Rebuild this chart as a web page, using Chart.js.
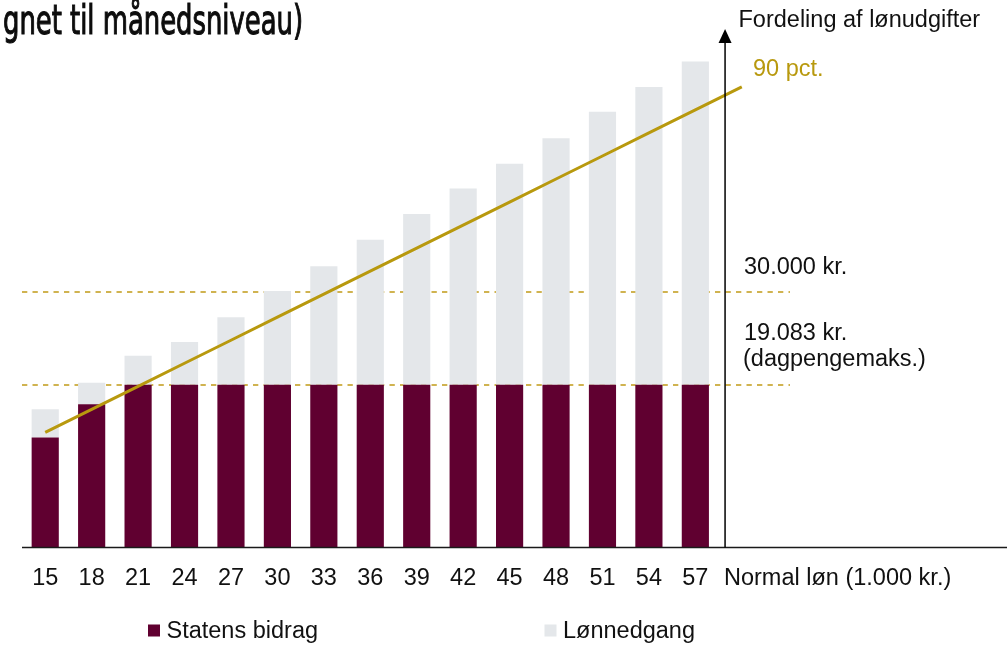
<!DOCTYPE html>
<html>
<head>
<meta charset="utf-8">
<script src="https://cdn.jsdelivr.net/npm/chart.js@4/dist/chart.umd.min.js"></script>
<style>
  html, body { margin: 0; padding: 0; background: #ffffff; }
  #wrap { position: relative; width: 1007px; height: 645px; }
</style>
</head>
<body>
<div id="wrap"><canvas id="c" width="1007" height="645"></canvas></div>
<script>
// ---- data ----
const wages = [15, 18, 21, 24, 27, 30, 33, 36, 39, 42, 45, 48, 51, 54, 57];
const lineWages = [15, 18, 21, 24, 27, 30, 33, 36, 39, 42, 45, 48, 51, 54, 57, 60];
const statensBidrag = [12.9, 16.8, 19.083, 19.083, 19.083, 19.083, 19.083, 19.083, 19.083, 19.083, 19.083, 19.083, 19.083, 19.083, 19.083];
const loennedgang = [3.3, 2.5, 3.4, 5.0, 7.9, 11.0, 13.9, 17.0, 20.0, 23.0, 25.9, 28.9, 32.0, 34.9, 37.9];
const pct90 = [13.5, 16.2, 18.9, 21.6, 24.3, 27.0, 29.7, 32.4, 35.1, 37.8, 40.5, 43.2, 45.9, 48.6, 51.3, 54.0];
const refLines = [30, 19.083];
const refLabels = [["30.000 kr."], ["19.083 kr.", "(dagpengemaks.)"]];
const titleText = "gnet til månedsniveau)";
const yAxisTitle = "Fordeling af lønudgifter";
const xAxisTitle = "Normal løn (1.000 kr.)";
const lineLabel = "90 pct.";

const FONT = "'Liberation Sans', Arial, sans-serif";
const FSIZE = 23.5;
const MAROON = '#600030';
const GREY = '#E4E7EA';
const GOLD = '#B8990E';
const DASH = '#D0B350';

const statensPadded = statensBidrag.concat([null]);
const loennPadded = loennedgang.concat([null]);

const decor = {
  id: 'decor',
  beforeDatasetsDraw(chart) {
    const ctx = chart.ctx;
    const ys = chart.scales.y;
    ctx.save();
    ctx.strokeStyle = DASH;
    ctx.lineWidth = 2.2;
    ctx.setLineDash([5.3, 5.2]);
    refLines.forEach(v => {
      const y = Math.round(ys.getPixelForValue(v));
      ctx.beginPath();
      ctx.moveTo(22, y);
      ctx.lineTo(790, y);
      ctx.stroke();
    });
    ctx.restore();
  },
  afterDatasetsDraw(chart) {
    const ctx = chart.ctx;
    const xs = chart.scales.x, ys = chart.scales.y;
    const step = xs.getPixelForValue(15) - xs.getPixelForValue(14);
    const axX = xs.getPixelForValue(14) + step * 0.64;
    const baseY = ys.getPixelForValue(0);
    ctx.save();
    ctx.strokeStyle = '#1a1a1a';
    ctx.lineWidth = 1.5;
    ctx.beginPath();
    ctx.moveTo(22, baseY);
    ctx.lineTo(1007, baseY);
    ctx.stroke();
    ctx.strokeStyle = '#000';
    ctx.lineWidth = 1.5;
    ctx.beginPath();
    ctx.moveTo(axX, baseY);
    ctx.lineTo(axX, 42);
    ctx.stroke();
    ctx.fillStyle = '#000';
    ctx.beginPath();
    ctx.moveTo(axX, 29);
    ctx.lineTo(axX - 6.5, 43);
    ctx.lineTo(axX + 6.5, 43);
    ctx.closePath();
    ctx.fill();

    ctx.font = FSIZE + 'px ' + FONT;
    ctx.textAlign = 'left';
    ctx.textBaseline = 'alphabetic';
    ctx.fillStyle = '#111';
    ctx.fillText(yAxisTitle, 738.5, 27);
    ctx.fillText(xAxisTitle, 724, 585);
    const y30 = ys.getPixelForValue(refLines[0]);
    const y19 = ys.getPixelForValue(refLines[1]);
    ctx.fillText(refLabels[0][0], 744, y30 - 18);
    ctx.fillText(refLabels[1][0], 744, y19 - 44.5);
    ctx.fillText(refLabels[1][1], 743, y19 - 18.5);
    ctx.fillStyle = GOLD;
    ctx.fillText(lineLabel, 753, 76);

    const legendItems = [
      { text: chart.data.datasets[1].label, color: chart.data.datasets[1].backgroundColor, x: 148 },
      { text: chart.data.datasets[2].label, color: chart.data.datasets[2].backgroundColor, x: 544.5 }
    ];
    legendItems.forEach(it => {
      ctx.fillStyle = it.color;
      ctx.fillRect(it.x, 624.5, 12, 12);
      ctx.fillStyle = '#111';
      ctx.fillText(it.text, it.x + 18.5, 638.3);
    });

    ctx.font = '41px "DejaVu Sans Condensed", "Liberation Sans Narrow", sans-serif';
    const w = ctx.measureText(titleText).width;
    ctx.translate(3, 33.5);
    ctx.scale(300 / w, 1);
    ctx.fillStyle = '#0d0d0d';
    ctx.strokeStyle = '#0d0d0d';
    ctx.lineWidth = 1.1;
    ctx.fillText(titleText, 0, 0);
    ctx.strokeText(titleText, 0, 0);
    ctx.restore();
  }
};

new Chart(document.getElementById('c'), {
  type: 'bar',
  data: {
    labels: lineWages.map(String),
    datasets: [
      {
        type: 'line',
        label: lineLabel,
        data: pct90,
        borderColor: GOLD,
        borderWidth: 3,
        pointRadius: 0,
        fill: false,
        tension: 0,
        stack: 'line',
        order: 0
      },
      {
        label: 'Statens bidrag',
        data: statensPadded,
        backgroundColor: MAROON,
        stack: 'bars',
        order: 2,
        categoryPercentage: 1,
        barPercentage: 0.585
      },
      {
        label: 'Lønnedgang',
        data: loennPadded,
        backgroundColor: GREY,
        stack: 'bars',
        order: 2,
        categoryPercentage: 1,
        barPercentage: 0.585
      }
    ]
  },
  options: {
    responsive: false,
    animation: false,
    layout: { padding: { left: 22, right: 242, top: 35.7, bottom: 0 } },
    plugins: {
      legend: { display: false },
      tooltip: { enabled: false },
      title: { display: false }
    },
    scales: {
      x: {
        stacked: true,
        afterFit: function (scale) { scale.height = 97.5; },
        grid: { display: false, drawTicks: false },
        border: { display: false },
        ticks: {
          autoSkip: false,
          maxRotation: 0,
          padding: 16.5,
          color: '#111',
          font: { family: FONT, size: FSIZE },
          callback: function (val, idx) { return idx < wages.length ? String(wages[idx]) : ''; }
        }
      },
      y: {
        stacked: true,
        min: 0,
        max: 60,
        display: false
      }
    }
  },
  plugins: [decor]
});
</script>
</body>
</html>
